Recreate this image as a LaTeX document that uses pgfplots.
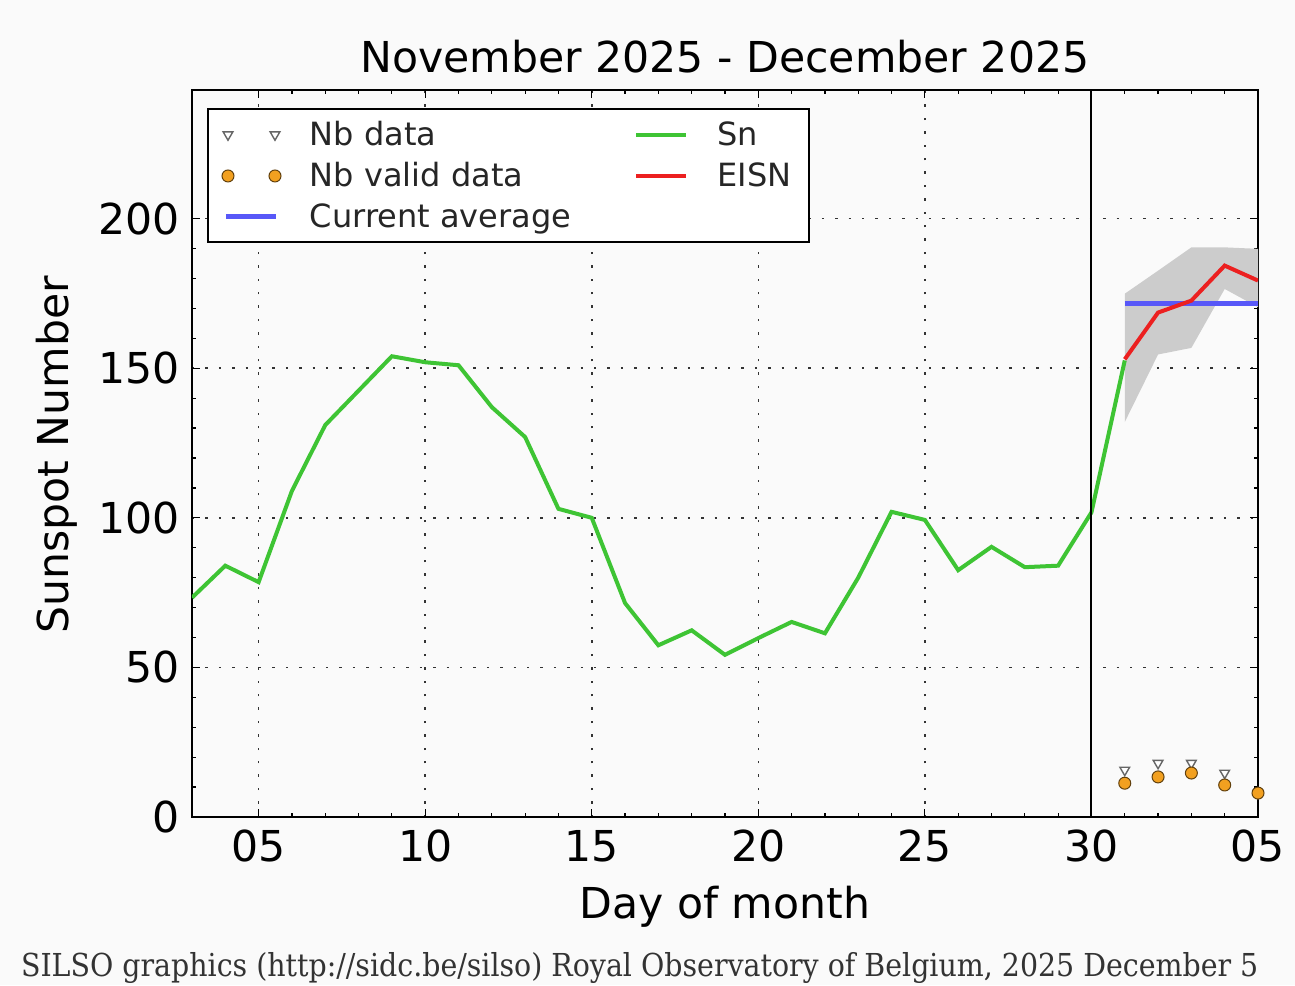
\documentclass[border=0pt]{standalone}
\usepackage{pgfplots}
\pgfplotsset{compat=1.18}
\usepackage{fontspec}
\setmainfont{DejaVu Sans}
\newfontfamily\footfont{DejaVu Serif Condensed}

\definecolor{sngreen}{RGB}{62,196,52}
\definecolor{eisnred}{RGB}{236,32,32}
\definecolor{avgblue}{RGB}{88,88,248}
\definecolor{bandgray}{RGB}{204,204,204}
\definecolor{dotorange}{RGB}{242,160,32}
\definecolor{bgcol}{RGB}{250,250,250}

\pgfplotsset{
  mytwomarks/.style={legend image code/.code={\draw[##1] plot coordinates {(1pt,0pt) (24.5pt,0pt)};}},
  myline/.style={legend image code/.code={\draw[##1] (0pt,0pt) -- (25pt,0pt);}},
  nbdata/.style={only marks, mark=triangle*, mark size=2.8pt, mark options={rotate=180, draw=black!60, fill=white, line width=0.7pt}},
  nbvalid/.style={only marks, mark=*, mark size=3pt, mark options={fill=dotorange, draw=black!60!dotorange, line width=0.5pt}},
}

\begin{document}
\begin{tikzpicture}
\fill[bgcol] (-96pt,-84pt) rectangle (551.5pt,408.5pt);
\path[use as bounding box] (-96pt,-84pt) rectangle (551.5pt,408.5pt);
\begin{axis}[
  at={(0pt,0pt)}, anchor=south west,
  scale only axis, width=533pt, height=363.5pt,
  xmin=3, xmax=35, ymin=0, ymax=243,
  xtick={5,10,...,35}, xticklabels={05,10,15,20,25,30,05},
  ytick={0,50,...,200},
  minor x tick num=4, minor y tick num=4,
  tick align=inside,
  major tick length=4pt, minor tick length=2pt,
  every tick/.style={black, line width=0.6pt},
  axis line style={line width=1pt},
  grid=major,
  major grid style={black!80, line width=0.75pt, dash pattern=on 1.2pt off 5.5pt},
  /pgf/number format/assume math mode=true,
  tick label style={font=\fontsize{21.3}{25}\selectfont},
  xticklabel style={yshift=-3pt},
  yticklabel style={xshift=-2.5pt},
  title={November 2025 - December 2025},
  title style={font=\fontsize{21.3}{25}\selectfont, at={(axis description cs:0.5,1)}, anchor=center, yshift=10.5pt},
  xlabel={Day of month},
  xlabel style={font=\fontsize{21.3}{25}\selectfont, at={(axis description cs:0.5,0)}, anchor=center, yshift=-45pt},
  ylabel={Sunspot Number},
  ylabel style={font=\fontsize{21.3}{25}\selectfont, at={(axis description cs:0,0.498)}, anchor=center, yshift=67.5pt},
  legend columns=2,
  legend cell align=left,
  legend style={at={(axis description cs:0,1)}, anchor=north west, xshift=7.5pt, yshift=-9pt,
    draw=black, line width=1pt, fill=white, inner xsep=7pt, inner ysep=4pt,
    text=black!85,
    font=\fontsize{16}{19}\selectfont, row sep=3pt,
    /tikz/every odd column/.append style={column sep=12.5pt},
    /tikz/every even column/.append style={column sep=29.5pt}},
]
% legend (matplotlib fills columns first)
\addlegendimage{nbdata, mytwomarks}
\addlegendentry{Nb data}
\addlegendimage{sngreen, line width=2pt, myline}
\addlegendentry{Sn}
\addlegendimage{nbvalid, mytwomarks}
\addlegendentry{Nb valid data}
\addlegendimage{eisnred, line width=2pt, myline}
\addlegendentry{EISN}
\addlegendimage{avgblue, line width=2.5pt, myline}
\addlegendentry{Current average}

% uncertainty band of EISN
\addplot[fill=bandgray, draw=none, forget plot] coordinates {
  (31,174.9) (32,182.6) (33,190.4) (34,190.4) (35,189.9)
  (35,170.4) (34,176.5) (33,156.8) (32,154.6) (31,132.0)};

% Sn
\addplot[sngreen, line width=2pt, forget plot] coordinates {
  (3,73.3) (4,84) (5,78.5) (6,109) (7,131) (8,142.5) (9,154) (10,152) (11,151)
  (12,137) (13,127) (14,103) (15,100) (16,71.5) (17,57.4) (18,62.4) (19,54.2)
  (20,59.8) (21,65.2) (22,61.4) (23,80) (24,102) (25,99.3) (26,82.5) (27,90.3)
  (28,83.5) (29,84) (30,101.8) (31,152.6)};

% separator between months
\addplot[black, line width=1pt, forget plot] coordinates {(30,0) (30,243)};

% current average
\addplot[avgblue, line width=2.5pt, forget plot] coordinates {(31,171.5) (35,171.5)};

% EISN
\addplot[eisnred, line width=2pt, forget plot] coordinates {
  (31,153) (32,168.6) (33,172.6) (34,184.3) (35,179.3)};

% Nb data
\addplot[nbdata, forget plot]
  coordinates {(31,15.7) (32,18) (33,18) (34,14.7) (35,8)};

% Nb valid data
\addplot[nbvalid, forget plot]
  coordinates {(31,11.3) (32,13.4) (33,14.7) (34,10.7) (35,8)};
\end{axis}
\node[anchor=west, text=black!80, font=\footfont\fontsize{15.8}{18}\selectfont] at (-89pt,-75.5pt)
  {SILSO graphics (http://sidc.be/silso) Royal Observatory of Belgium, 2025 December 5};
\end{tikzpicture}
\end{document}
